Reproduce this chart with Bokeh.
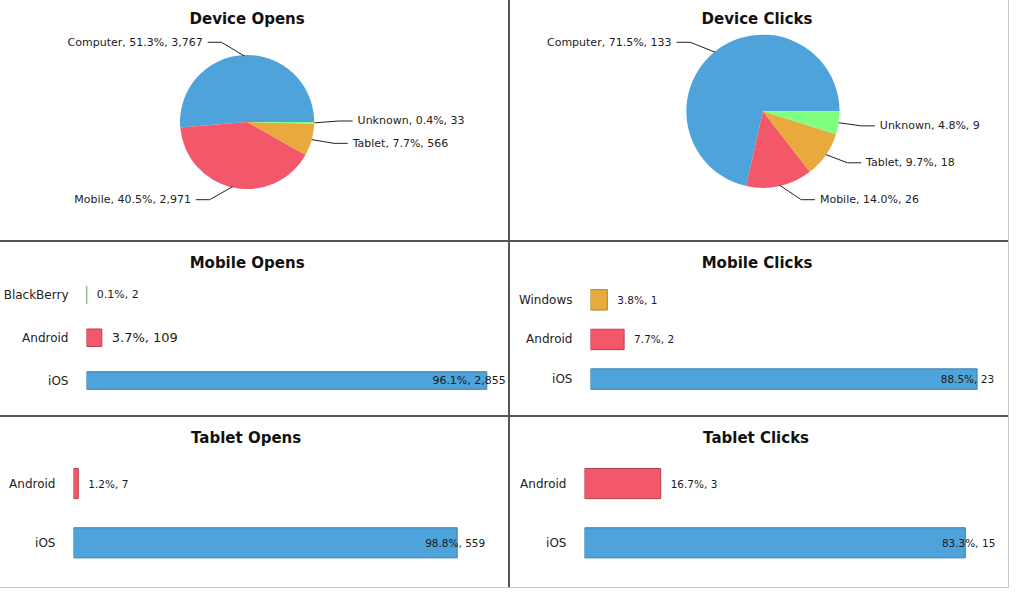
import math
from bokeh.plotting import figure
from bokeh.layouts import column, row
from bokeh.models import Range1d, FixedTicker, ColumnDataSource
from bokeh.embed import file_html
from bokeh.resources import INLINE
from bokeh.core.properties import value

FONT = "DejaVu Sans"

# ---------------- data ----------------
device_names = ["Computer", "Mobile", "Tablet", "Unknown"]
device_open_counts = [3767, 2971, 566, 33]
device_open_pcts = [51.3, 40.5, 7.7, 0.4]
device_click_counts = [133, 26, 18, 9]
device_click_pcts = [71.5, 14.0, 9.7, 4.8]

mobile_open_os = ["iOS", "Android", "BlackBerry"]
mobile_open_counts = [2855, 109, 2]
mobile_open_pcts = [96.1, 3.7, 0.1]

mobile_click_os = ["iOS", "Android", "Windows"]
mobile_click_counts = [23, 2, 1]
mobile_click_pcts = [88.5, 7.7, 3.8]

tablet_open_os = ["iOS", "Android"]
tablet_open_counts = [559, 7]
tablet_open_pcts = [98.8, 1.2]

tablet_click_os = ["iOS", "Android"]
tablet_click_counts = [15, 3]
tablet_click_pcts = [83.3, 16.7]

# ---------------- styles ----------------
FILL = {"Computer": "#4FA3DB", "Mobile": "#F2586A", "Tablet": "#E8AA3C", "Unknown": "#80FF80",
        "iOS": "#4FA3DB", "Android": "#F2586A", "BlackBerry": "#80FF80", "Windows": "#E8AA3C"}
EDGE = {"iOS": "#3B7DAA", "Android": "#B8404E", "BlackBerry": "#5E9A5E", "Windows": "#A8802C"}

# panel sizes (screen px) and reference sizes (layout units)
GAP = 2
COL_W = [508, 498]
REF_COL_W = [515, 507]
ROW_H = [240, 173, 170]
REF_ROW_H = [247, 178, 175]
TITLE_SIZE = 15
TITLE_CENTER_REF = [250, 251]

# approximate DejaVu Sans Bold advance widths (em) for title centring
BOLD_W = {" ": .348, "C": .734, "D": .828, "M": .994, "O": .850, "T": .684, "a": .675,
          "b": .716, "c": .593, "e": .678, "i": .343, "k": .665, "l": .343, "n": .712,
          "o": .687, "p": .716, "s": .595, "t": .478, "v": .652}


def title_width(t):
    return sum(BOLD_W.get(ch, .65) for ch in t) * TITLE_SIZE


def base_figure(title, col, row_i, top_ref, y_rng_fn, x_rng, left_ref=0):
    W, H = COL_W[col], ROW_H[row_i]
    RW, RH = REF_COL_W[col], REF_ROW_H[row_i]
    sx, sy = W / RW, H / RH
    top_px = int(round(top_ref * sy))
    left_px = int(round(left_ref * sx))
    p = figure(width=W, height=H, output_backend="svg", toolbar_location=None,
               x_range=x_rng, y_range=y_rng_fn(top_px / sy),
               min_border_left=left_px, min_border_right=0, min_border_bottom=0,
               min_border_top=top_px, title=title,
               styles={"background-color": "white"})
    p.title.text_font = FONT
    p.title.text_font_size = f"{TITLE_SIZE}px"
    p.title.text_font_style = "bold"
    p.title.text_color = "#111111"
    p.title.align = "left"
    p.title.offset = TITLE_CENTER_REF[col] * sx - title_width(title) / 2 - left_px
    p.title.standoff = 4
    p.outline_line_color = None
    p.grid.visible = False
    p.background_fill_color = "white"
    p.border_fill_color = "white"
    return p


def pie_panel(title, col, names, counts, pcts, cx, cy, r, label_layout):
    RW, RH = REF_COL_W[col], REF_ROW_H[0]
    p = base_figure(title, col, 0, 30, lambda t: Range1d(0, RH - t), Range1d(0, RW))
    p.axis.visible = False
    total = sum(counts)
    starts, ends = [], []
    acc = 0.0
    for c in counts:
        starts.append(2 * math.pi * acc / total)
        acc += c
        ends.append(2 * math.pi * acc / total)
    cyd = RH - cy
    src = ColumnDataSource(dict(start=starts, end=ends, color=[FILL[n] for n in names]))
    p.wedge(x=cx, y=cyd, radius=r, start_angle="start", end_angle="end",
            fill_color="color", line_color=None, source=src)

    xs, ys, tx, ty, tt, al = [], [], [], [], [], []
    for n, c, pc, s, e in zip(names, counts, pcts, starts, ends):
        side, lx, ly = label_layout[n]
        mid = (s + e) / 2
        ex, ey = cx + r * math.cos(mid), cyd + r * math.sin(mid)
        lyd = RH - ly
        if side == "left":
            endx = lx + 5
            elbow = endx + 14
        else:
            endx = lx - 5
            elbow = endx - 14
        xs.append([ex, elbow, endx])
        ys.append([ey, lyd, lyd])
        tx.append(lx)
        ty.append(lyd)
        tt.append(f"{n}, {pc:.1f}%, {c:,}")
        al.append("right" if side == "left" else "left")
    p.multi_line(xs=xs, ys=ys, line_color="#222222", line_width=1)
    p.text(x=tx, y=ty, text=tt, text_align=al, text_baseline="middle",
           text_font=value(FONT), text_font_size="11px", text_color="#222222")
    return p


def bar_panel(title, col, row_i, cats, counts, pcts, frame_left, bar_end, c_first, c_last,
              bar_h, long_offset, label_sizes):
    RW, RH = REF_COL_W[col], REF_ROW_H[row_i]
    n = len(cats)
    spacing = (c_first - c_last) / (n - 1)
    idx = list(range(n))
    x_end = max(counts) * (RW - frame_left) / (bar_end - frame_left)
    p = base_figure(title, col, row_i, 32,
                    lambda t: Range1d((c_first - RH) / spacing, (c_first - t) / spacing),
                    Range1d(0, x_end), left_ref=frame_left)
    src = ColumnDataSource(dict(y=idx, right=counts,
                                fill=[FILL[c] for c in cats], edge=[EDGE[c] for c in cats]))
    p.hbar(y="y", left=0, right="right", height=bar_h / spacing,
           fill_color="fill", line_color="edge", line_width=1, source=src)
    long = [pc > 50 for pc in pcts]
    labels = [f"{pc:.1f}%, {c:,}" for pc, c in zip(pcts, counts)]
    p.text(x=counts, y=idx, text=labels,
           text_align=["right" if l else "left" for l in long],
           x_offset=[long_offset if l else 10 for l in long],
           text_baseline="middle", text_font=value(FONT),
           text_font_size=label_sizes, text_color="#1a1a1a")
    p.xaxis.visible = False
    ya = p.yaxis[0]
    ya.ticker = FixedTicker(ticks=idx)
    ya.major_label_overrides = {i: c for i, c in zip(idx, cats)}
    ya.axis_line_color = None
    ya.major_tick_line_color = None
    ya.minor_tick_line_color = None
    ya.major_label_standoff = 12
    ya.major_label_text_font = FONT
    ya.major_label_text_font_size = "12px"
    ya.major_label_text_color = "#222222"
    return p


p1 = pie_panel("Device Opens", 0, device_names, device_open_counts, device_open_pcts,
               250, 125, 68,
               {"Computer": ("left", 205, 43), "Mobile": ("left", 193, 205),
                "Tablet": ("right", 357, 147), "Unknown": ("right", 362, 124)})
p2 = pie_panel("Device Clicks", 1, device_names, device_click_counts, device_click_pcts,
               257, 114, 78,
               {"Computer": ("left", 164, 43), "Mobile": ("right", 315, 205),
                "Tablet": ("right", 362, 167), "Unknown": ("right", 376, 129)})

p3 = bar_panel("Mobile Opens", 0, 1, mobile_open_os, mobile_open_counts, mobile_open_pcts,
               87, 493, 142, 54, 18, 19, ["11px", "13px", "11px"])
p4 = bar_panel("Mobile Clicks", 1, 1, mobile_click_os, mobile_click_counts, mobile_click_pcts,
               81, 475, 140.5, 59, 21, 17, ["10.5px", "10.5px", "10.5px"])
p5 = bar_panel("Tablet Opens", 0, 2, tablet_open_os, tablet_open_counts, tablet_open_pcts,
               74, 463, 129, 68, 31, 28, ["10.5px", "10.5px"])
p6 = bar_panel("Tablet Clicks", 1, 2, tablet_click_os, tablet_click_counts, tablet_click_pcts,
               75, 463, 129, 68, 31, 30, ["10.5px", "10.5px"])

DIV = {"background-color": "#555555"}
layout = column(row(p1, p2, spacing=GAP, styles=DIV),
                row(p3, p4, spacing=GAP, styles=DIV),
                row(p5, p6, spacing=GAP, styles=DIV),
                spacing=GAP, styles={"background-color": "#555555",
                                     "outline": "1px solid #c8c8c8"})

open("out.html", "w").write(file_html(layout, INLINE))
